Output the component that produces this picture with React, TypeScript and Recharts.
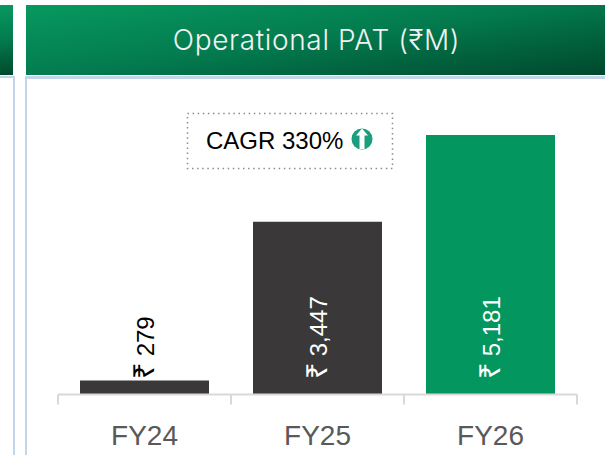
import { Bar, BarChart, Cell, LabelList, XAxis, YAxis } from 'recharts'

const CATEGORIES = ['FY24', 'FY25', 'FY26']
const PAT_VALUES = [279, 3447, 5181]
const TITLE = 'Operational PAT (₹M)'
const CAGR_TEXT = 'CAGR 330%'

const BAND = 173
const LABEL_START_Y = 379
const FONT = '"Liberation Sans", Arial, sans-serif'
const HEADER_GRADIENT = 'linear-gradient(172deg, #07995f 0%, #037a4e 50%, #00482c 100%)'

const chartData = CATEGORIES.map((name, i) => ({ name, pat: PAT_VALUES[i] }))

function SeparatorTick({ x, y, payload, index }: any) {
  const top = y - 8
  return (
    <g>
      <line x1={x - BAND / 2} x2={x - BAND / 2} y1={top} y2={top + 10} stroke="#d9d9d9" strokeWidth={2} />
      {index === CATEGORIES.length - 1 && (
        <line x1={x + BAND / 2} x2={x + BAND / 2} y1={top} y2={top + 10} stroke="#d9d9d9" strokeWidth={2} />
      )}
      <text x={x} y={top + 50} textAnchor="middle" fontSize={28} fontFamily={FONT} fill="#595959">
        {payload.value}
      </text>
    </g>
  )
}

function ValueLabel({ x, width, value, index }: any) {
  const tx = x + width / 2 + 9.5
  const fill = index === 0 ? '#000000' : '#ffffff'
  return (
    <text
      x={tx}
      y={LABEL_START_Y}
      transform={`rotate(-90 ${tx} ${LABEL_START_Y})`}
      fontSize={24}
      fontFamily={FONT}
      fill={fill}
    >
      <tspan fontSize={29}>₹</tspan>
      <tspan dx={-1}>{` ${Number(value).toLocaleString('en-US')}`}</tspan>
    </text>
  )
}

export default function App() {
  return (
    <div style={{ position: 'fixed', left: 0, top: 0, width: 605, height: 455, background: '#fff', overflow: 'hidden' }}>
      <div style={{ position: 'absolute', left: 0, top: 5, width: 13, height: 70, background: HEADER_GRADIENT }} />
      <div style={{ position: 'absolute', left: 0, top: 76, width: 13, height: 379, borderTop: '2px solid #c5d5e8', borderRight: '2px solid #c5d5e8' }} />
      <div
        style={{
          position: 'absolute',
          left: 26,
          top: 5,
          width: 579,
          height: 70,
          background: HEADER_GRADIENT,
          color: '#f2f2f2',
          fontFamily: 'Inter, Roboto, sans-serif',
          fontWeight: 300,
          fontSize: 28,
          letterSpacing: 0.65,
          lineHeight: '70px',
          textAlign: 'center',
          paddingLeft: 2,
          boxSizing: 'border-box',
        }}
      >
        {TITLE}
      </div>
      <div style={{ position: 'absolute', left: 25, top: 76, width: 580, height: 379, borderTop: '3px solid #c5d5e8', borderLeft: '2px solid #c5d5e8', boxSizing: 'border-box' }} />

      <div style={{ position: 'absolute', left: 0, top: 0 }}>
        <BarChart width={605} height={455} data={chartData} margin={{ top: 94, right: 28, bottom: 0, left: 58 }} barSize={129}>
          <XAxis
            dataKey="name"
            height={60.5}
            interval={0}
            axisLine={{ stroke: '#d9d9d9', strokeWidth: 2 }}
            tickLine={false}
            tick={<SeparatorTick />}
          />
          <YAxis hide domain={[0, 6000]} />
          <Bar dataKey="pat" isAnimationActive={false}>
            {chartData.map((_, i) => (
              <Cell key={i} fill={i === chartData.length - 1 ? '#03965e' : '#3a3838'} />
            ))}
            <LabelList dataKey="pat" content={<ValueLabel />} />
          </Bar>
        </BarChart>
      </div>

      <svg width={208} height={58} style={{ position: 'absolute', left: 186, top: 112 }}>
        <rect x={1.5} y={1.5} width={205} height={55} fill="#fff" stroke="#8c8c8c" strokeWidth={1.5} strokeDasharray="1.5 3.6" />
      </svg>
      <span style={{ position: 'absolute', left: 206, top: 127, fontFamily: FONT, fontSize: 24, lineHeight: '28px', color: '#000' }}>
        {CAGR_TEXT}
      </span>
      <svg width={22} height={22} viewBox="0 0 22 22" style={{ position: 'absolute', left: 351, top: 128 }}>
        <circle cx={11} cy={11} r={10.5} fill="#1a9e7e" />
        <path d="M11 0.5 L17 7.5 L13.5 7.5 L13.5 21 L8.5 21 L8.5 7.5 L5 7.5 Z" fill="#fff" />
      </svg>
    </div>
  )
}
